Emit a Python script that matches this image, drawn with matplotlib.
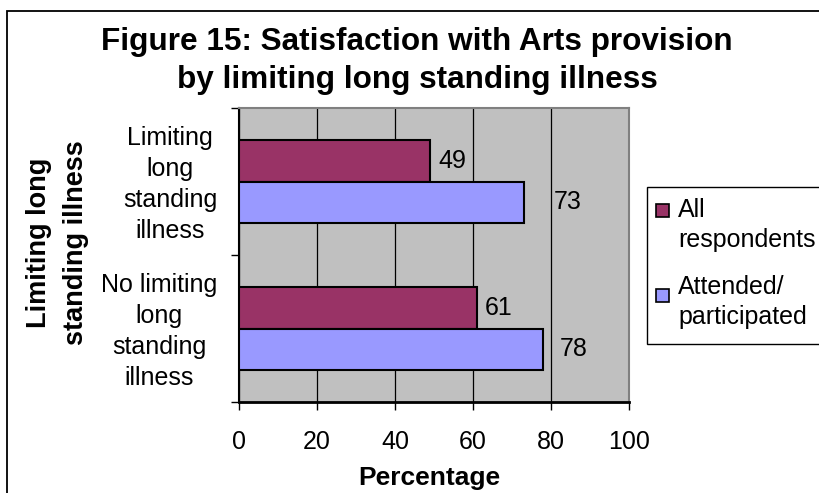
import numpy as np
import matplotlib
matplotlib.use('Agg')
import matplotlib.pyplot as plt
from matplotlib.patches import Rectangle
from matplotlib.transforms import ScaledTranslation

plt.rcParams['font.family'] = ['Liberation Sans', 'DejaVu Sans']

# data, bottom category first
categories = ['No limiting\nlong\nstanding\nillness', 'Limiting\nlong\nstanding\nillness']
series_names = ['All\nrespondents', 'Attended/\nparticipated']
all_respondents = [61, 49]
attended = [78, 73]
xticks = [0, 20, 40, 60, 80, 100]

# label offsets (pixels) right of the bar ends, as Excel placed them
off_all = [8, 8]
off_att = [17, 30]

purple = '#993366'
blue = '#9999FF'
plot_bg = '#C0C0C0'

W, H = 819, 493
def fx(px):
    return px / W
def fy(py):
    return 1 - py / H

fig = plt.figure(figsize=(W / 100, H / 100), dpi=100)

# outer chart border (runs off the right and bottom of the crop)
fig.add_artist(Rectangle((fx(7), fy(530)), fx(840) - fx(7), fy(11) - fy(530),
                         transform=fig.transFigure, fill=False,
                         edgecolor='black', lw=1.3))

ax = fig.add_axes([fx(239), fy(402), fx(629) - fx(239), fy(108) - fy(402)])
ax.set_facecolor(plot_bg)

y = np.arange(len(categories))
h = 0.285
bars1 = ax.barh(y + h / 2, all_respondents, height=h, color=purple,
                edgecolor='black', lw=1.5, zorder=3)
bars2 = ax.barh(y - h / 2, attended, height=h, color=blue,
                edgecolor='black', lw=1.5, zorder=3)

for bars, vals, offs in [(bars1, all_respondents, off_all), (bars2, attended, off_att)]:
    for b, v, o in zip(bars, vals, offs):
        ax.annotate(str(v), (v, b.get_y() + b.get_height() / 2),
                    xytext=(o * 0.72, 0), textcoords='offset points',
                    ha='left', va='center', fontsize=18)

ax.set_xlim(0, 100)
ax.set_ylim(-0.5, 1.5)
ax.set_xticks(xticks)
ax.xaxis.grid(True, color='black', lw=0.9, zorder=1)
ax.set_axisbelow(True)

ax.set_yticks(y)
ax.set_yticklabels(categories, fontsize=18, ha='right', multialignment='center',
                   linespacing=1.38)
ax.set_yticks([-0.5, 0.5, 1.5], minor=True)
ax.tick_params(axis='y', which='major', length=0, pad=15.8)
ax.tick_params(axis='y', which='minor', length=6, width=1, direction='out')
ax.tick_params(axis='x', length=6, width=1, direction='out', labelsize=18, pad=14)
# nudge category labels up a little
for lbl in ax.get_yticklabels():
    lbl.set_transform(lbl.get_transform() + ScaledTranslation(0, 0.03, fig.dpi_scale_trans))

for s in ['top', 'right']:
    ax.spines[s].set_color('#808080')
    ax.spines[s].set_linewidth(1.5)
ax.spines['left'].set_linewidth(1.5)
ax.spines['bottom'].set_linewidth(2)

ax.set_xlabel('Percentage', fontsize=19, fontweight='bold')
ax.xaxis.label.set_va('center')
ax.xaxis.set_label_coords(0.487, -0.2585)

ax.set_ylabel('Limiting long\nstanding illness', fontsize=19.5, fontweight='bold',
              linespacing=1.55)
ax.yaxis.label.set_va('center')
ax.yaxis.set_label_coords(-0.466, 0.541)

fig.text(fx(417), fy(27), 'Figure 15: Satisfaction with Arts provision\nby limiting long standing illness',
         ha='center', va='top', fontsize=22.7, fontweight='bold', linespacing=1.34)

# legend box, drawn by hand so the swatch sits on the first line of each label
fig.add_artist(Rectangle((fx(647), fy(344)), fx(840) - fx(647), fy(187) - fy(344),
                         transform=fig.transFigure, facecolor='white',
                         edgecolor='black', lw=1.0))
for name, col, sy, ty in [(series_names[0], purple, 204, 198), (series_names[1], blue, 289, 275)]:
    fig.add_artist(Rectangle((fx(656), fy(sy + 13)), 13 / W, 13 / H,
                             transform=fig.transFigure, facecolor=col,
                             edgecolor='black', lw=1.2))
    fig.text(fx(678), fy(ty), name, ha='left', va='top', fontsize=18, linespacing=1.34)

fig.savefig('out.png', dpi=100)
